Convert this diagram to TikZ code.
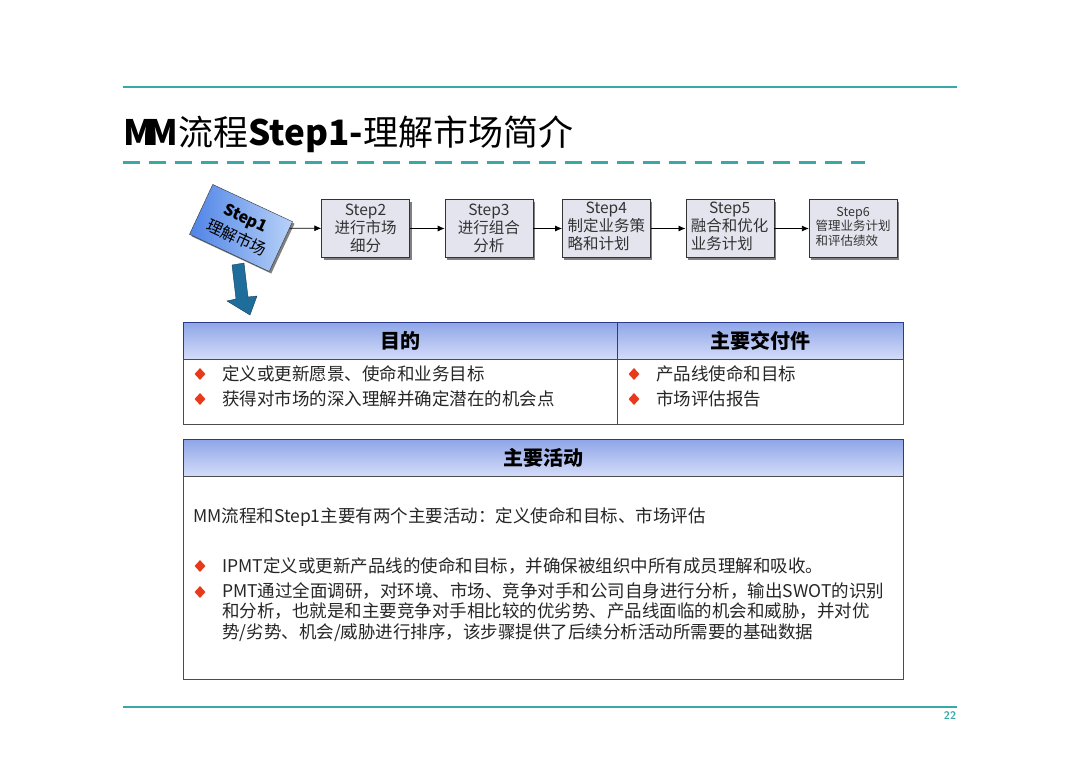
\documentclass[tikz,border=0pt]{standalone}
\usepackage{fontspec}
\newfontfamily\cjk{Noto Sans CJK SC}
\usetikzlibrary{arrows.meta,positioning,shapes.geometric,shadows}
\definecolor{rulecol}{HTML}{3AA9A6}
\definecolor{boxgray}{HTML}{E4E4EE}
\definecolor{hdtop}{HTML}{8EA5E8}
\definecolor{hdbot}{HTML}{D4DCF8}
\definecolor{navy}{HTML}{2B3A8C}
\definecolor{bulred}{HTML}{E8391A}
\definecolor{stepblue}{HTML}{4F83E6}
\definecolor{steplight}{HTML}{B8D2F8}
\definecolor{bigarrow}{HTML}{1E6D9B}
\newcommand{\lft}[2]{\begin{tabular}{@{}l@{}}#1\\#2\end{tabular}}

\begin{document}
\begin{tikzpicture}[x=1pt, y=-1pt,
  font=\cjk,
  node distance=35pt,
  stepbox/.style={draw=black!80, fill=boxgray, minimum width=88pt, minimum height=58pt,
              align=center, inner sep=2pt, text=black!80,
              font=\cjk\fontsize{15.5}{18}\selectfont,
              drop shadow={shadow xshift=2pt, shadow yshift=-2pt, fill=black!50, opacity=1}},
  arr/.style={-{Latex[length=7pt,width=6pt]}, thick},
  hdr/.style={draw=navy, top color=hdtop, bottom color=hdbot, anchor=north west,
              minimum height=37pt, font=\cjk\bfseries\fontsize{20}{22}\selectfont},
  cell/.style={draw=black!70, fill=white, anchor=north west},
  bul/.style={diamond, fill=bulred, inner sep=0pt, minimum width=11pt, minimum height=12pt},
  body/.style={anchor=west, inner sep=0pt, text=black!85, font=\cjk\fontsize{17.5}{20}\selectfont},
  rule/.style={draw=rulecol, line width=1.2pt}
]
\useasboundingbox (0,0) rectangle (1080,763);
\fill[white] (0,0) rectangle (1080,763);

% page frame
\draw[rule] (123,87) -- (957,87);
\draw[rule] (123,707) -- (957,707);
\draw[draw=rulecol, line width=3pt, dash pattern=on 17pt off 9pt] (123,162) -- (865,162);
\node[anchor=base west, inner sep=0pt, font=\cjk\fontsize{35}{40}\selectfont] (title) at (123,145)
  {\textbf{M\kern-6pt M}流程\textbf{Step1-}理解市场简介};
\node[font=\sffamily\bfseries\fontsize{11}{12}\selectfont, text=rulecol] (pg) at (950,716) {22};

% steps
\node[draw=black!80, rotate=-25, minimum width=88pt, minimum height=55pt, align=center,
      left color=stepblue, right color=steplight, inner sep=1pt,
      drop shadow={shadow xshift=2pt, shadow yshift=-2pt, fill=black!50, opacity=1},
      font=\cjk\fontsize{16}{22}\selectfont] (s1) at (241,228)
  {\textbf{Step1}\\理解市场};
\node[stepbox] (s2) at (365.5,228.5) {Step2\\进行市场\\细分};
\node[stepbox, right=of s2] (s3) {Step3\\进行组合\\分析};
\node[stepbox, right=29pt of s3] (s4) {Step4\\\lft{制定业务策}{略和计划}};
\node[stepbox, right=of s4] (s5) {Step5\\\lft{融合和优化}{业务计划}};
\node[stepbox, right=of s5, font=\cjk\fontsize{12.5}{15}\selectfont] (s6) {Step6\\\lft{管理业务计划}{和评估绩效}};
\draw[arr] (s1) -- (s2);
\draw[arr] (s2) -- (s3);
\draw[arr] (s3) -- (s4);
\draw[arr] (s4) -- (s5);
\draw[arr] (s5) -- (s6);
\draw[fill=bigarrow, draw=bigarrow!60!black] (232,265) -- (244,263) -- (248,297) -- (257,296)
  -- (250,315) -- (227,301) -- (236,299) -- cycle;

% goals and deliverables
\node[hdr, minimum width=434pt] (h1) at (183,322) {目的};
\node[hdr, minimum width=286pt] (h2) at (617,322) {主要交付件};
\node[cell, minimum width=434pt, minimum height=65pt] (c1) at (183,359) {};
\node[cell, minimum width=286pt, minimum height=65pt] (c2) at (617,359) {};
\node[bul] (b1) at (200,374) {};
\node[body] (t1) at (222,374) {定义或更新愿景、使命和业务目标};
\node[bul] (b2) at (200,399) {};
\node[body] (t2) at (222,399) {获得对市场的深入理解并确定潜在的机会点};
\node[bul] (b3) at (634,374) {};
\node[body] (t3) at (656,374) {产品线使命和目标};
\node[bul] (b4) at (634,399) {};
\node[body] (t4) at (656,399) {市场评估报告};

% main activities
\node[hdr, minimum width=720pt] (h3) at (183,439) {主要活动};
\node[cell, minimum width=720pt, minimum height=203pt] (c3) at (183,476) {};
\node[body] (t5) at (193,517)
  {MM流程和Step1主要有两个主要活动：定义使命和目标、市场评估};
\node[bul] (b5) at (200,566) {};
\node[body] (t6) at (222,566) {IPMT定义或更新产品线的使命和目标，并确保被组织中所有成员理解和吸收。};
\node[bul] (b6) at (200,592) {};
\node[body, anchor=north west, align=left, font=\cjk\fontsize{17.5}{20.5}\selectfont] (t7) at (222,582)
  {PMT通过全面调研，对环境、市场、竞争对手和公司自身进行分析，输出SWOT的识别\\
   和分析，也就是和主要竞争对手相比较的优劣势、产品线面临的机会和威胁，并对优\\
   势/劣势、机会/威胁进行排序，该步骤提供了后续分析活动所需要的基础数据};
\end{tikzpicture}
\end{document}
